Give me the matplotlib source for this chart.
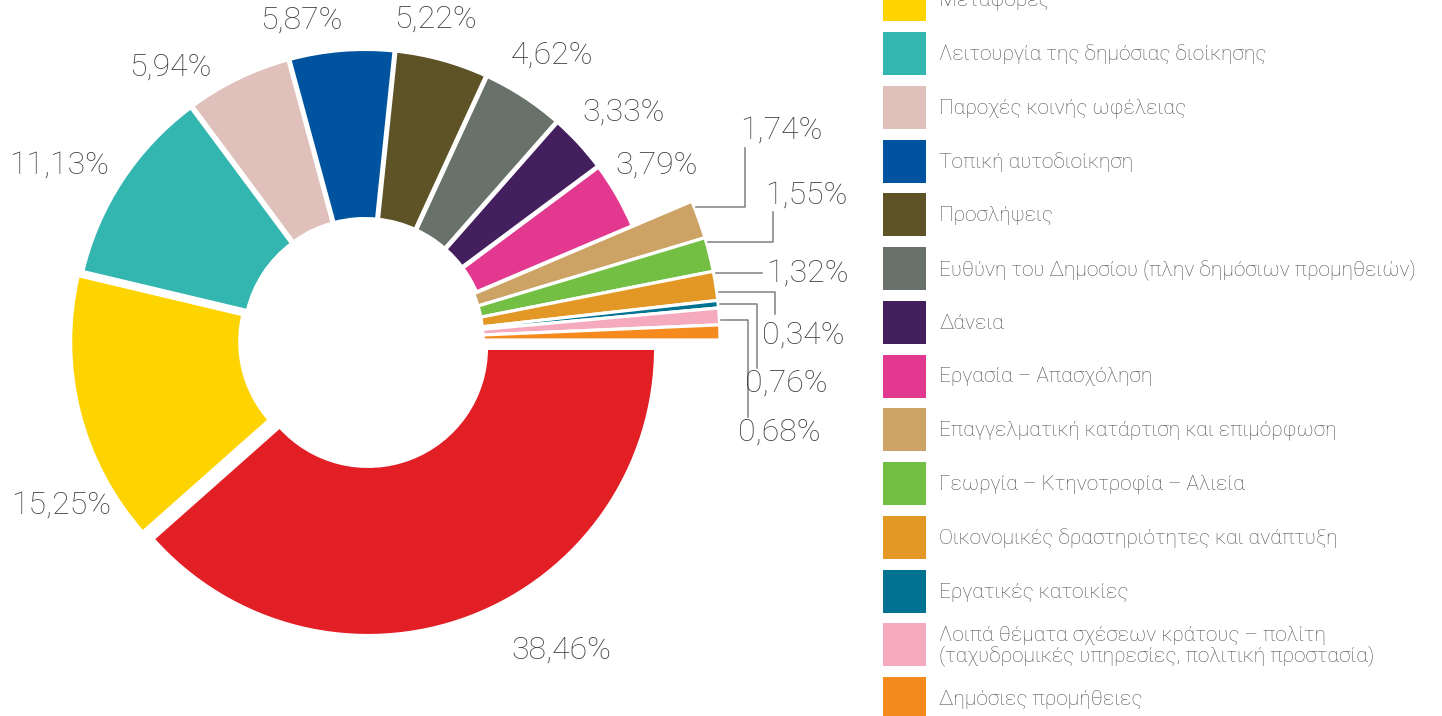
import numpy as np
import matplotlib.pyplot as plt
from matplotlib.patches import Rectangle

plt.rcParams['font.family'] = ['Roboto', 'DejaVu Sans']

# Data (first legend row, the red one, is cut off above the picture)
categories = [
    "Ανθρώπινο δυναμικό του Δημοσίου",
    "Μεταφορές",
    "Λειτουργία της δημόσιας διοίκησης",
    "Παροχές κοινής ωφέλειας",
    "Τοπική αυτοδιοίκηση",
    "Προσλήψεις",
    "Ευθύνη του Δημοσίου (πλην δημόσιων προμηθειών)",
    "Δάνεια",
    "Εργασία – Απασχόληση",
    "Επαγγελματική κατάρτιση και επιμόρφωση",
    "Γεωργία – Κτηνοτροφία – Αλιεία",
    "Οικονομικές δραστηριότητες και ανάπτυξη",
    "Εργατικές κατοικίες",
    "Λοιπά θέματα σχέσεων κράτους – πολίτη\n(ταχυδρομικές υπηρεσίες, πολιτική προστασία)",
    "Δημόσιες προμήθειες",
]
shares = [38.46, 15.25, 11.13, 5.94, 5.87, 5.22, 4.62, 3.33, 3.79,
          1.74, 1.55, 1.32, 0.34, 0.76, 0.68]
colours = ["#E31F26", "#FDD400", "#33B5B0", "#E0C0BB", "#00539F", "#5E5327",
           "#68716A", "#431F5D", "#E3388F", "#CDA365", "#72BF44", "#E39826",
           "#007393", "#F5ABBD", "#F58A1F"]

# Layout (pixels, y going down)
W, H = 1442, 716
CX, CY = 365, 340
R_OUT, R_IN, R_SMALL = 288, 118, 355
FIRST_SMALL = 9
explode = [8.5, 7, 3, 3, 3, 3, 3, 3, 3, 0, 0, 0, 0, 0, 0]
TEXT_COL = "#3f3f41"
LEGEND_COL = "#505052"
LINE_COL = "#808080"

# angle nudge (deg) and radius for the labels of the big slices
main_label_pos = [(11.5, 367), (14.4, 346), (3.6, 352), (9.6, 335), (6.7, 326),
                  (3.0, 328), (-0.3, 341), (-1.2, 345), (1.2, 340)]
# text left x, text centre y, elbow x, line end y for the small slices
small_label_pos = [(740, 130, 745, 148), (765, 195, 773, 212), (766, None, None, None),
                   (762, 335, 775, 314), (745, 383, 757, 368), (738, 432, 748, 417)]

fig = plt.figure(figsize=(W / 100, H / 100), dpi=100)
ax = fig.add_axes([0, 0, 1, 1])

# y axis is inverted, so counterclock=True runs clockwise on screen
wedges, _ = ax.pie(shares, colors=colours, startangle=0, counterclock=True,
                   radius=R_OUT, center=(CX, CY), explode=explode,
                   wedgeprops=dict(width=R_OUT - R_IN, edgecolor="white", linewidth=2.9))
for w in wedges[FIRST_SMALL:]:
    w.set_radius(R_SMALL)
    w.set_width(R_SMALL - R_IN)
    w.set_linewidth(2.3)

ax.set_xlim(0, W)
ax.set_ylim(H, 0)
ax.set_aspect("equal")
ax.axis("off")

# screen angle of each slice middle
cum = np.cumsum([0] + shares[:-1])
mids = -(cum + np.array(shares) / 2) * 3.6


def fmt(v):
    return f"{v:.2f}".replace(".", ",") + "%"


for i in range(FIRST_SMALL):
    nudge, r = main_label_pos[i]
    a = np.radians(mids[i] + nudge)
    ax.text(CX + r * np.cos(a), CY - r * np.sin(a), fmt(shares[i]),
            ha="center", va="center", fontsize=23, color=TEXT_COL, fontweight="light")

for k, i in enumerate(range(FIRST_SMALL, len(shares))):
    tx, ty, ex, ey = small_label_pos[k]
    a = np.radians(mids[i] + 2)
    sx, sy = CX + (R_SMALL + 2) * np.cos(a), CY - (R_SMALL + 2) * np.sin(a)
    if ex is None:
        ax.plot([sx, tx - 4], [sy, sy], color=LINE_COL, lw=1.1)
        ty = sy
    else:
        ax.plot([sx, ex, ex], [sy, sy, ey], color=LINE_COL, lw=1.1)
    ax.text(tx, ty, fmt(shares[i]), ha="left", va="center", fontsize=23,
            color=TEXT_COL, fontweight="light")

# Legend, drawn by hand (its top row lies above the picture)
LEG_X, LEG_TOP, LEG_STEP, BOX = 883, -75.5, 53.75, 43
for i, (label, c) in enumerate(zip(categories, colours)):
    top = LEG_TOP + i * LEG_STEP
    ax.add_patch(Rectangle((LEG_X, top), BOX, BOX, facecolor=c, edgecolor="none",
                           clip_on=False))
    ax.text(LEG_X + 56, top + BOX / 2 + 1, label, ha="left", va="center",
            fontsize=15, color=LEGEND_COL, fontweight="light", linespacing=1.0)

fig.savefig("out.png", dpi=100, facecolor="white")
